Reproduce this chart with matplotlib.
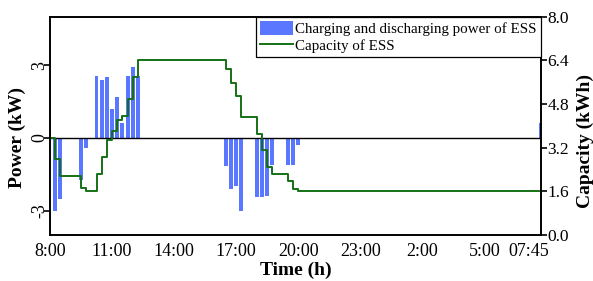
import matplotlib.pyplot as plt
import matplotlib.transforms as mtransforms
import numpy as np

plt.rcParams['font.family'] = ['Liberation Serif', 'DejaVu Serif']

# --------- Dados (passos de 15 min, 8:00 -> 07:45) ---------
passo = np.arange(96)

potencia = [0, -3.0, -2.5, 0, 0, 0, -1.75, -0.4, 0, 2.55,
            2.4, 2.5, 1.2, 1.7, 0.6, 2.55, 2.95, 2.55, 0, 0,
            0, 0, 0, 0, 0, 0, 0, 0, 0, 0,
            0, 0, 0, 0, -1.15, -2.1, -2.0, -3.0, 0, 0,
            -2.45, -2.45, -2.4, -1.1, 0, 0, -1.1, -1.1, -0.3, 0,
            0, 0, 0, 0, 0, 0, 0, 0, 0, 0,
            0, 0, 0, 0, 0, 0, 0, 0, 0, 0,
            0, 0, 0, 0, 0, 0, 0, 0, 0, 0,
            0, 0, 0, 0, 0, 0, 0, 0, 0, 0,
            0, 0, 0, 0, 0, 0.6]

capacidade = [3.55, 2.8, 2.16, 2.16, 2.16, 2.16, 1.72, 1.6, 1.6, 2.25,
              2.85, 3.48, 3.8, 4.21, 4.36, 5.0, 5.78, 6.4, 6.4, 6.4,
              6.4, 6.4, 6.4, 6.4, 6.4, 6.4, 6.4, 6.4, 6.4, 6.4,
              6.4, 6.4, 6.4, 6.4, 6.1, 5.57, 5.08, 4.33, 4.33, 4.33,
              3.72, 3.1, 2.51, 2.24, 2.24, 2.24, 1.96, 1.68, 1.6, 1.6,
              1.6, 1.6, 1.6, 1.6, 1.6, 1.6, 1.6, 1.6, 1.6, 1.6,
              1.6, 1.6, 1.6, 1.6, 1.6, 1.6, 1.6, 1.6, 1.6, 1.6,
              1.6, 1.6, 1.6, 1.6, 1.6, 1.6, 1.6, 1.6, 1.6, 1.6,
              1.6, 1.6, 1.6, 1.6, 1.6, 1.6, 1.6, 1.6, 1.6, 1.6,
              1.6, 1.6, 1.6, 1.6, 1.6, 1.75]

ticks_x = [0, 12, 24, 36, 48, 60, 72, 84, 95]
rotulos_x = ['8:00', '11:00', '14:00', '17:00', '20:00', '23:00', '2:00', '5:00', '07:45']

# --------- Gráfico ---------
fig, ax = plt.subplots(figsize=(5.93, 2.81), dpi=100)
fig.subplots_adjust(left=0.0843, right=0.913, top=0.94, bottom=0.164)

barras = ax.bar(passo, potencia, width=0.75, color='#5a78ff', zorder=2,
                label='Charging and discharging power of ESS')
ax.axhline(0, color='black', lw=1.0, zorder=3)
ax.set_xlim(0, 95)
ax.set_ylim(-4, 5)
ax.set_yticks([-3, 0, 3])
ax.set_yticklabels(['-3', '0', '3'], rotation=90, va='center')
ax.set_xticks(ticks_x)
ax.set_xticklabels(rotulos_x)
ax.tick_params(axis='x', length=0, pad=5.5, labelsize=13)
ax.tick_params(axis='y', length=4, width=1.2, pad=-2.5, labelsize=13)
ax.set_ylabel('Power (kW)', fontsize=14, fontweight='bold')
ax.yaxis.set_label_coords(-0.048, 0.445)
ax.set_xlabel('Time (h)', fontsize=14, fontweight='bold')
ax.xaxis.set_label_coords(0.5, -0.125)

# último rótulo um pouco à esquerda (como no original)
desloc = mtransforms.ScaledTranslation(-9 / 72, 0, fig.dpi_scale_trans)
ultimo = ax.get_xticklabels()[-1]
ultimo.set_transform(ultimo.get_transform() + desloc)

ax2 = ax.twinx()
linha, = ax2.step(passo, capacidade, where='post', color='#157015', lw=1.4,
                  label='Capacity of ESS')
ax2.set_ylim(0, 8)
ax2.set_yticks([0, 1.6, 3.2, 4.8, 6.4, 8.0])
ax2.set_yticklabels(['0.0', '1.6', '3.2', '4.8', '6.4', '8.0'])
ax2.tick_params(axis='y', length=4, width=1.2, pad=0.5, labelsize=12.5)
ax2.set_ylabel('Capacity (kWh)', fontsize=14, fontweight='bold')
ax2.yaxis.set_label_coords(1.072, 0.43)

for a in (ax, ax2):
    for s in a.spines.values():
        s.set_linewidth(1.2)

leg = ax2.legend([barras, linha], [barras.get_label(), linha.get_label()],
                 loc='upper right', bbox_to_anchor=(1.0, 1.0), fontsize=10.8,
                 frameon=True, fancybox=False, edgecolor='black', framealpha=1,
                 borderaxespad=0, borderpad=0.3, handlelength=2.2, handleheight=1.0,
                 handletextpad=0.15, labelspacing=0.12)
leg.get_frame().set_linewidth(0.9)

fig.savefig('out.png', dpi=100)
